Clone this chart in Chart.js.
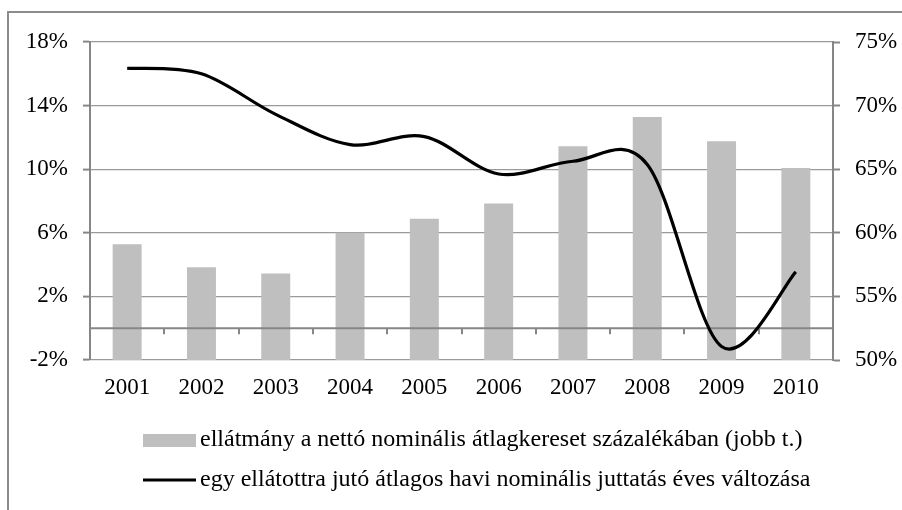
<!DOCTYPE html>
<html>
<head>
<meta charset="utf-8">
<script src="https://cdn.jsdelivr.net/npm/chart.js@4"></script>
<style>
  html, body { margin: 0; padding: 0; background: #fff; }
  #wrap { position: relative; width: 902px; height: 510px; overflow: hidden; }
  #frame { position: absolute; left: 7px; top: 11px; width: 1000px; height: 1000px;
           border-left: 2px solid #8c8c8c; border-top: 2px solid #8c8c8c; }
  canvas { position: absolute; left: 0; top: 0; }
</style>
</head>
<body>
<div id="wrap">
  <div id="frame"></div>
  <canvas id="chart" width="902" height="510"></canvas>
</div>
<script>
const years = ["2001", "2002", "2003", "2004", "2005", "2006", "2007", "2008", "2009", "2010"]
// ellátmány a nettó nominális átlagkereset százalékában (right axis, %)
const ratioValues = [59.1, 57.3, 56.8, 60.0, 61.1, 62.3, 66.8, 69.1, 67.2, 65.1]
// egy ellátottra jutó juttatás éves változása (left axis, %)
const changeValues = [16.35, 16.0, 13.45, 11.55, 12.05, 9.7, 10.5, 10.3, -1.15, 3.55]
const leftTicks = [-2, 2, 6, 10, 14, 18]
const rightTicks = [50, 55, 60, 65, 70, 75]

const serif = "'Liberation Serif', 'Times New Roman', serif"
const axisGray = "#868686"
const tickFont = { family: serif, size: 23 }

// zero line of the left axis, drawn over the bars but under the line
const zeroLine = {
  id: "zeroLine",
  afterDatasetDraw(chart, args) {
    if (args.meta.type !== "bar") return
    const ctx = chart.ctx
    const x = chart.scales.x
    const y0 = chart.scales.y.getPixelForValue(0)
    const area = chart.chartArea
    ctx.save()
    ctx.strokeStyle = axisGray
    ctx.lineWidth = 2
    ctx.beginPath()
    ctx.moveTo(area.left, y0)
    ctx.lineTo(area.right, y0)
    for (let i = 1; i < years.length; i++) {
      const px = Math.round((x.getPixelForValue(i - 1) + x.getPixelForValue(i)) / 2)
      ctx.moveTo(px, y0)
      ctx.lineTo(px, y0 + 6)
    }
    ctx.stroke()
    ctx.restore()
  },
}

// Catmull-Rom style control points (neighbour difference / 6) for the smoothed line
const cardinalSmoothing = {
  id: "cardinalSmoothing",
  beforeDatasetDraw(chart, args) {
    const meta = args.meta
    if (meta.type !== "line") return
    meta.dataset.updateControlPoints(chart.chartArea)
    const pts = meta.data
    const n = pts.length
    for (let i = 0; i < n; i++) {
      const prev = pts[Math.max(i - 1, 0)]
      const next = pts[Math.min(i + 1, n - 1)]
      const dx = (next.x - prev.x) / 6
      const dy = (next.y - prev.y) / 6
      pts[i].cp1x = pts[i].x - dx
      pts[i].cp1y = pts[i].y - dy
      pts[i].cp2x = pts[i].x + dx
      pts[i].cp2y = pts[i].y + dy
    }
  },
}

// two-row legend under the plot
const stackedLegend = {
  id: "stackedLegend",
  afterDraw(chart, args, opts) {
    const ctx = chart.ctx
    ctx.save()
    ctx.font = opts.font
    ctx.textBaseline = "middle"
    chart.data.datasets.forEach((ds, i) => {
      const y = opts.top + i * opts.rowHeight
      if (ds.type === "bar") {
        ctx.fillStyle = ds.backgroundColor
        ctx.fillRect(opts.left, y - 6, opts.symbolWidth, 13)
      } else {
        ctx.strokeStyle = ds.borderColor
        ctx.lineWidth = ds.borderWidth
        ctx.beginPath()
        ctx.moveTo(opts.left, y)
        ctx.lineTo(opts.left + opts.symbolWidth, y)
        ctx.stroke()
      }
      ctx.fillStyle = "#000"
      ctx.fillText(ds.label, opts.left + opts.symbolWidth + 4, y)
    })
    ctx.restore()
  },
}

new Chart(document.getElementById("chart").getContext("2d"), {
  data: {
    labels: years,
    datasets: [
      {
        type: "bar",
        label: "ellátmány a nettó nominális átlagkereset százalékában (jobb t.)",
        data: ratioValues,
        yAxisID: "y1",
        backgroundColor: "#bfbfbf",
        barPercentage: 0.39,
        categoryPercentage: 1,
        order: 2,
      },
      {
        type: "line",
        label: "egy ellátottra jutó átlagos havi nominális juttatás éves változása",
        data: changeValues,
        yAxisID: "y",
        borderColor: "#000",
        borderWidth: 3.2,
        pointRadius: 0,
        tension: 0.4,
        fill: false,
        order: 1,
      },
    ],
  },
  options: {
    responsive: false,
    animation: false,
    layout: { padding: { top: 42, left: 0, right: 0, bottom: 0 } },
    plugins: {
      legend: { display: false },
      tooltip: { enabled: false },
      stackedLegend: {
        font: "24px " + serif,
        left: 143,
        top: 440,
        rowHeight: 40,
        symbolWidth: 53,
      },
    },
    scales: {
      x: {
        grid: { display: false, drawTicks: false },
        border: { display: false },
        ticks: { color: "#000", font: tickFont, padding: 14, maxRotation: 0 },
        afterFit(scale) { scale.height = 150 },
      },
      y: {
        position: "left",
        min: -2,
        max: 18,
        afterBuildTicks(scale) { scale.ticks = leftTicks.map(v => ({ value: v })) },
        ticks: { color: "#000", font: tickFont, padding: 15, callback: v => v + "%" },
        grid: {
          color: "#9a9a9a",
          lineWidth: 1.2,
          borderDash: [2, 2],
          tickColor: axisGray,
          tickLength: 7,
          tickWidth: 2,
        },
        border: { color: axisGray, width: 2 },
        afterFit(scale) { scale.width = 90 },
      },
      y1: {
        position: "right",
        min: 50,
        max: 75,
        afterBuildTicks(scale) { scale.ticks = rightTicks.map(v => ({ value: v })) },
        ticks: { color: "#000", font: tickFont, padding: 15, callback: v => v + "%" },
        grid: {
          drawOnChartArea: false,
          tickColor: axisGray,
          tickLength: 7,
          tickWidth: 2,
        },
        border: { color: axisGray, width: 2 },
        afterFit(scale) { scale.width = 69 },
      },
    },
  },
  plugins: [zeroLine, cardinalSmoothing, stackedLegend],
})
</script>
</body>
</html>
